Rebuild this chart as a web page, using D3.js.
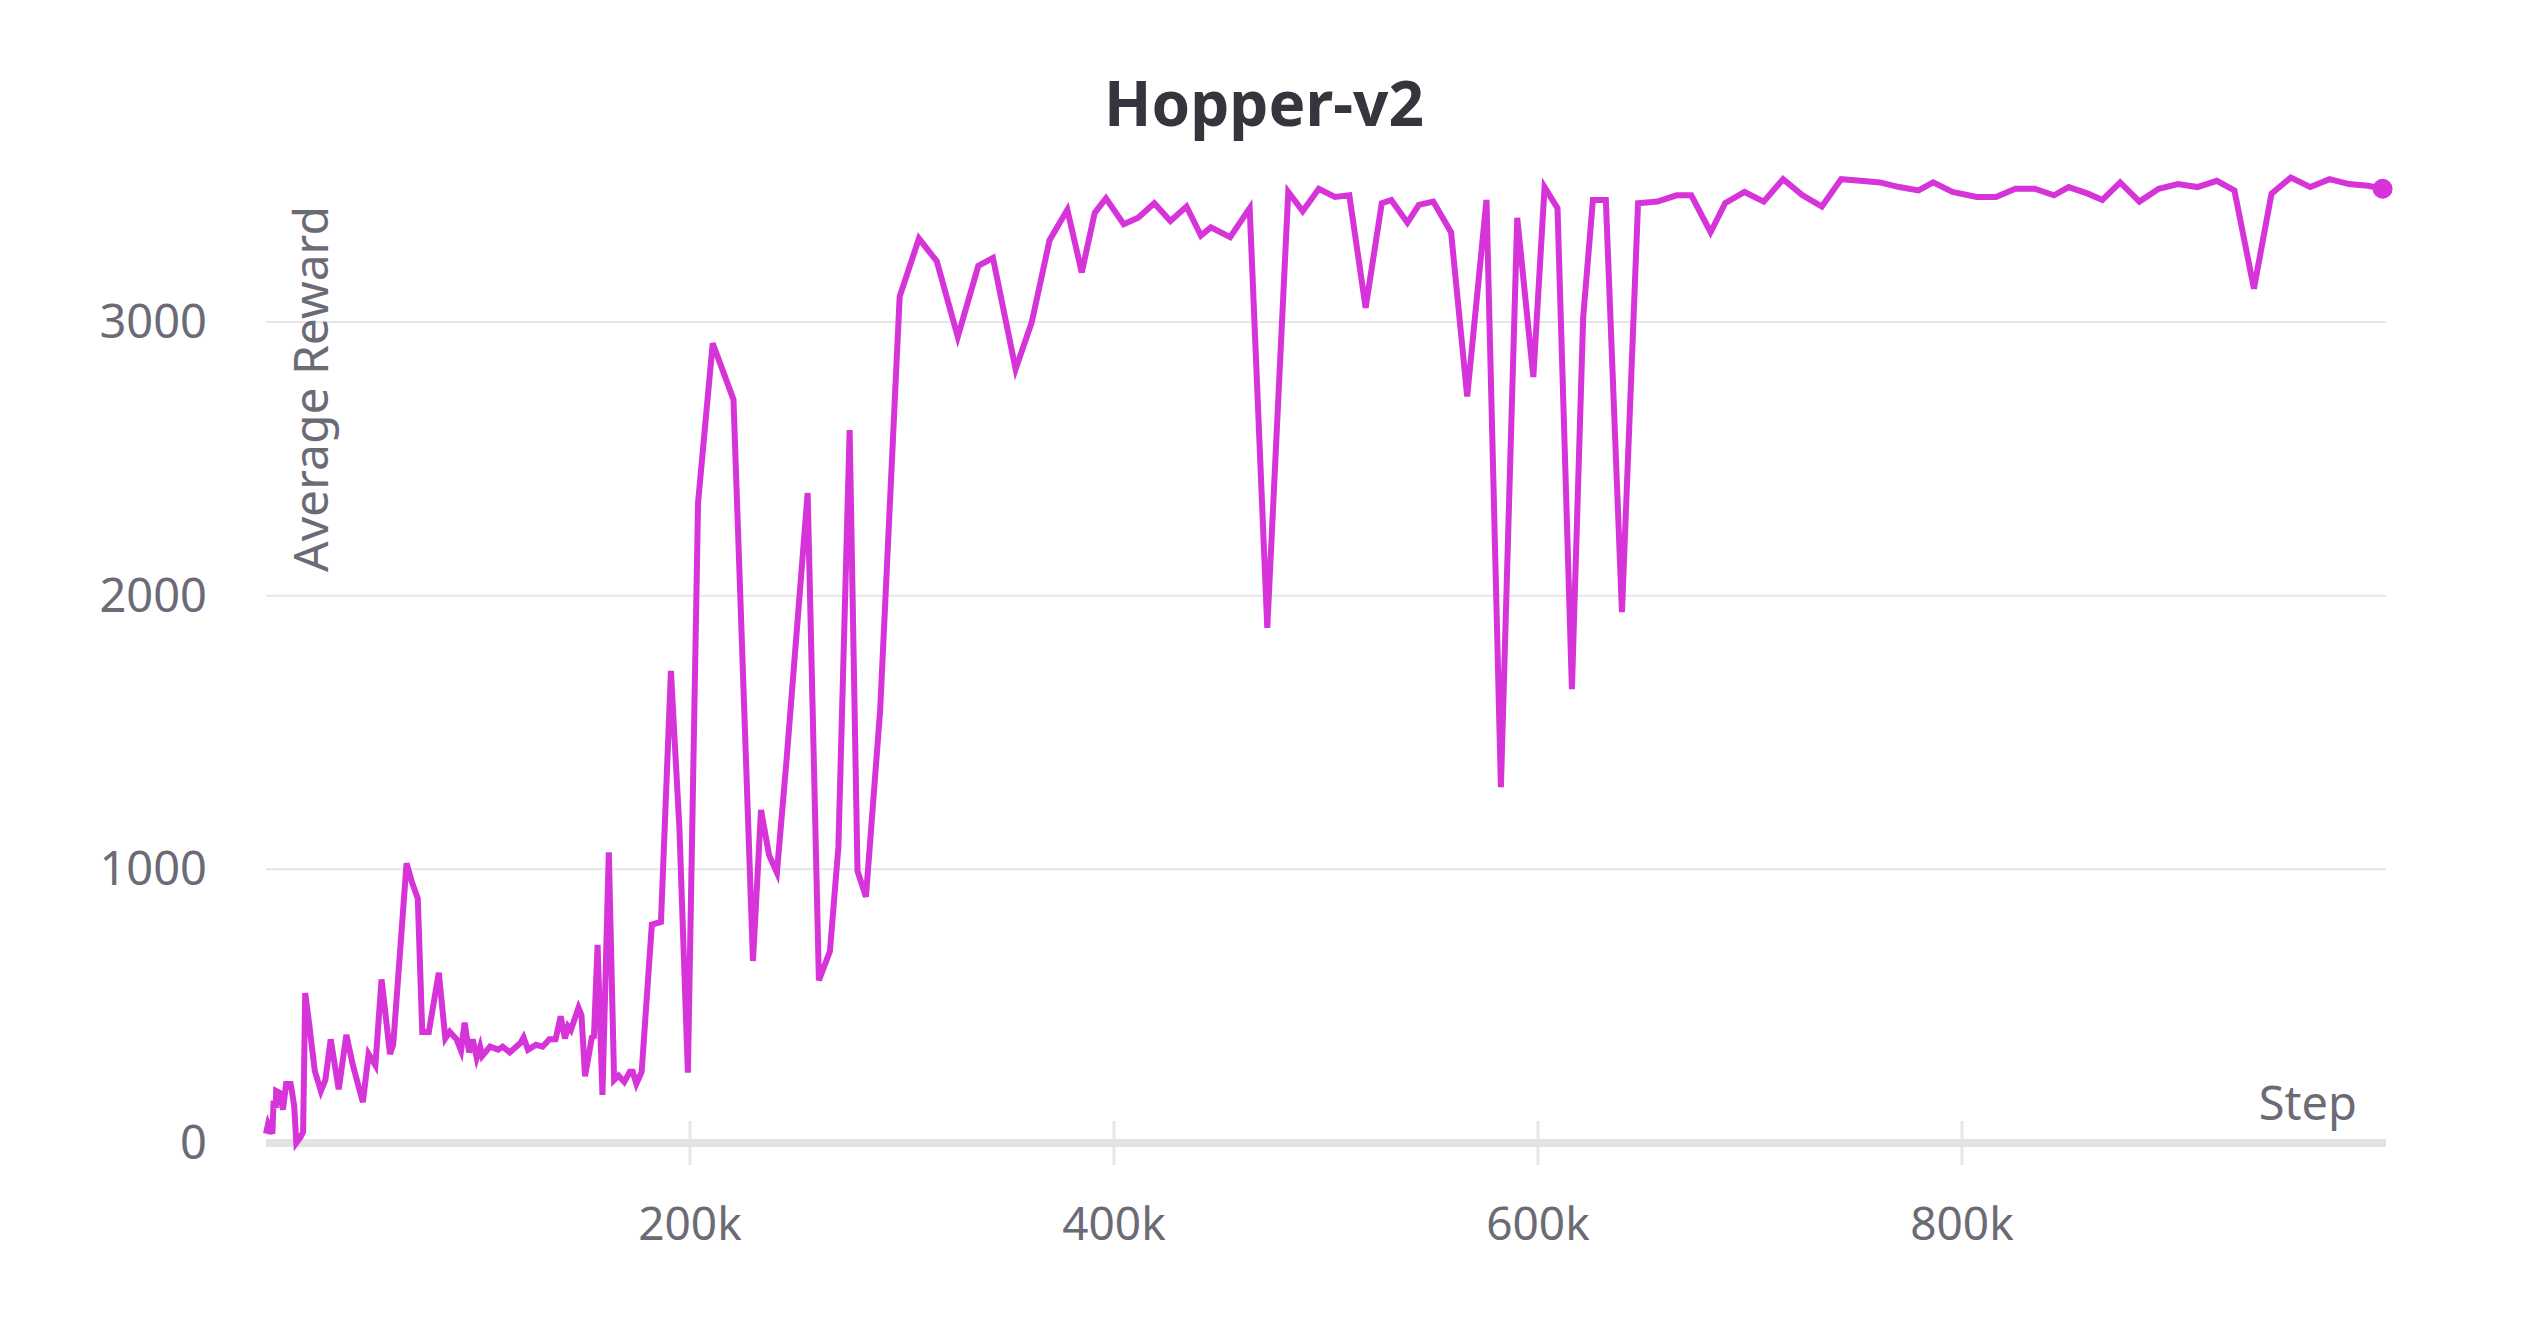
<!DOCTYPE html>
<html>
<head>
<meta charset="utf-8">
<script src="https://cdn.jsdelivr.net/npm/d3@7"></script>
<style>
  body { margin: 0; background: #fff; }
  text { font-family: "Noto Sans", Lato, sans-serif; }
</style>
</head>
<body>
<svg id="chart" width="2528" height="1328"></svg>
<script>
const steps = [0, 1000, 3000, 3600, 4600, 4800, 6500, 8000, 9500, 11600, 12200, 13300, 14300, 16200, 17500,
  18500, 20600, 23000, 25900, 28000, 30500, 34300, 37900, 41000, 45700, 48400, 51600, 54500, 58500, 60000,
  66300, 68800, 71600, 73700, 76800, 81500, 84600, 86700, 89900, 92000, 93700, 95800, 97500, 99400, 101000,
  102000, 105700, 109500, 111600, 115000, 120000, 121500, 123600, 127400, 130500, 133700, 136600, 139000,
  141000, 142500, 143800, 147400, 148800, 150500, 153700, 154700, 156400, 158700, 161700, 164200, 166300,
  169000, 171600, 173000, 174700, 177200, 182000, 186300, 191000, 195000, 199000,
  203800, 210700, 220500, 229700, 233500, 237300, 241000, 245600, 255500, 260800, 266000, 270000, 275300,
  279000, 283000, 289700, 298900, 308000, 316400, 326300, 336000, 342900, 353600, 361200, 369600, 378000,
  384800, 390900, 396200, 404600, 411400, 419000, 426600, 434200, 441000, 445700, 454800, 464000, 472300,
  482200, 489000, 496600, 504200, 511000, 518700, 526300, 530800, 538400, 543800, 550600, 559000, 566600,
  575700, 582500, 590200, 597800, 603100, 609200, 616000, 621300, 625900, 632000, 639600, 647200, 656300,
  665400, 672300, 681400, 688300, 697400, 706500, 715600, 724800, 733900, 743000, 752200, 761300, 770400,
  779500, 786400, 795500, 806900, 816000, 825200, 834300, 843400, 850300, 859400, 866200, 874600, 883700,
  892800, 901900, 911000, 920200, 928500, 937700, 946000, 955100, 964300, 973400, 982500, 991600, 998400];
const rewards = [34, 70, 34, 155, 128, 190, 183, 122, 216, 216, 190, 135, 0, 20, 40,
  548, 420, 264, 190, 230, 379, 196, 395, 284, 149, 325, 284, 598, 325, 359,
  1022, 954, 893, 406, 406, 622, 382, 406, 379, 338, 440, 331, 379, 311, 352,
  318, 352, 341, 352, 331, 365, 386, 341, 359, 352, 379, 379, 463,
  382, 426, 413, 494, 467, 244, 386, 390, 724, 176, 1062, 230, 246,
  223, 260, 260, 216, 260, 798, 808, 1725, 1150, 257,
  2340, 2922, 2717, 665, 1217, 1052, 988, 1405, 2375, 594, 700, 1082, 2605,
  994, 900, 1582, 3093, 3305, 3222, 2946, 3205, 3234, 2828, 2999, 3299, 3410,
  3181, 3399, 3452, 3357, 3381, 3434, 3369, 3422, 3316, 3346, 3310, 3416, 1882,
  3475, 3405, 3487, 3457, 3463, 3052, 3434, 3446, 3363, 3428, 3440, 3328, 2728,
  3446, 1300, 3381, 2799, 3493, 3416, 1658, 3016, 3446, 3446, 1940, 3434, 3440,
  3463, 3463, 3328, 3434, 3475, 3440, 3522, 3463, 3422, 3522, 3516, 3510, 3493,
  3481, 3510, 3475, 3457, 3457, 3487, 3487, 3463, 3493, 3469, 3446, 3510, 3440,
  3487, 3504, 3493, 3516, 3481, 3122, 3469, 3528, 3493, 3522, 3504, 3498, 3487];
const xTicks = [200000, 400000, 600000, 800000];
const xTickLabels = ["200k", "400k", "600k", "800k"];
const yTicks = [0, 1000, 2000, 3000];

const svg = d3.select('#chart');
const x = d3.scaleLinear().domain([0, 1000000]).range([266, 2386]);
const y = d3.scaleLinear().domain([0, 3000]).range([1143, 322]);
const grey = '#6b6b76';

// horizontal grid
svg.append('g').selectAll('line').data(yTicks.filter(d => d > 0)).join('line')
  .attr('x1', x.range()[0]).attr('x2', x.range()[1])
  .attr('y1', d => y(d)).attr('y2', d => y(d))
  .attr('stroke', '#e6e6e9').attr('stroke-width', 2);

// x tick marks
svg.append('g').selectAll('line').data(xTicks).join('line')
  .attr('x1', d => x(d)).attr('x2', d => x(d))
  .attr('y1', y(0) - 22).attr('y2', y(0) + 22)
  .attr('stroke', '#e6e6e9').attr('stroke-width', 3);

// baseline
svg.append('line')
  .attr('x1', x.range()[0]).attr('x2', x.range()[1])
  .attr('y1', y(0)).attr('y2', y(0))
  .attr('stroke', '#e3e3e6').attr('stroke-width', 8);

svg.append('g').selectAll('text').data(xTicks).join('text')
  .attr('x', d => x(d)).attr('y', 1240)
  .attr('text-anchor', 'middle').attr('font-size', 46).attr('fill', grey)
  .text((d, i) => xTickLabels[i]);

svg.append('g').selectAll('text').data(yTicks).join('text')
  .attr('x', 207).attr('y', d => y(d) + 16)
  .attr('text-anchor', 'end').attr('font-size', 47).attr('fill', grey)
  .text(d => d);

svg.append('text')
  .attr('transform', 'translate(328,389) rotate(-90)')
  .attr('text-anchor', 'middle').attr('font-size', 48).attr('fill', grey)
  .text('Average Reward');

svg.append('text')
  .attr('x', 2357).attr('y', 1120)
  .attr('text-anchor', 'end').attr('font-size', 47).attr('fill', grey)
  .text('Step');

svg.append('text')
  .attr('x', 1264).attr('y', 126)
  .attr('text-anchor', 'middle').attr('font-size', 62).attr('font-weight', 'bold').attr('fill', '#35353d')
  .text('Hopper-v2');

const pts = steps.map((s, i) => [s, rewards[i]]);
const line = d3.line().x(d => x(d[0])).y(d => y(d[1]));
svg.append('path').datum(pts)
  .attr('d', line).attr('fill', 'none')
  .attr('stroke', '#d633d9').attr('stroke-width', 6).attr('stroke-linejoin', 'miter');

const last = pts[pts.length - 1];
svg.append('circle').attr('cx', x(last[0])).attr('cy', y(last[1])).attr('r', 10).attr('fill', '#d633d9');
</script>
</body>
</html>
